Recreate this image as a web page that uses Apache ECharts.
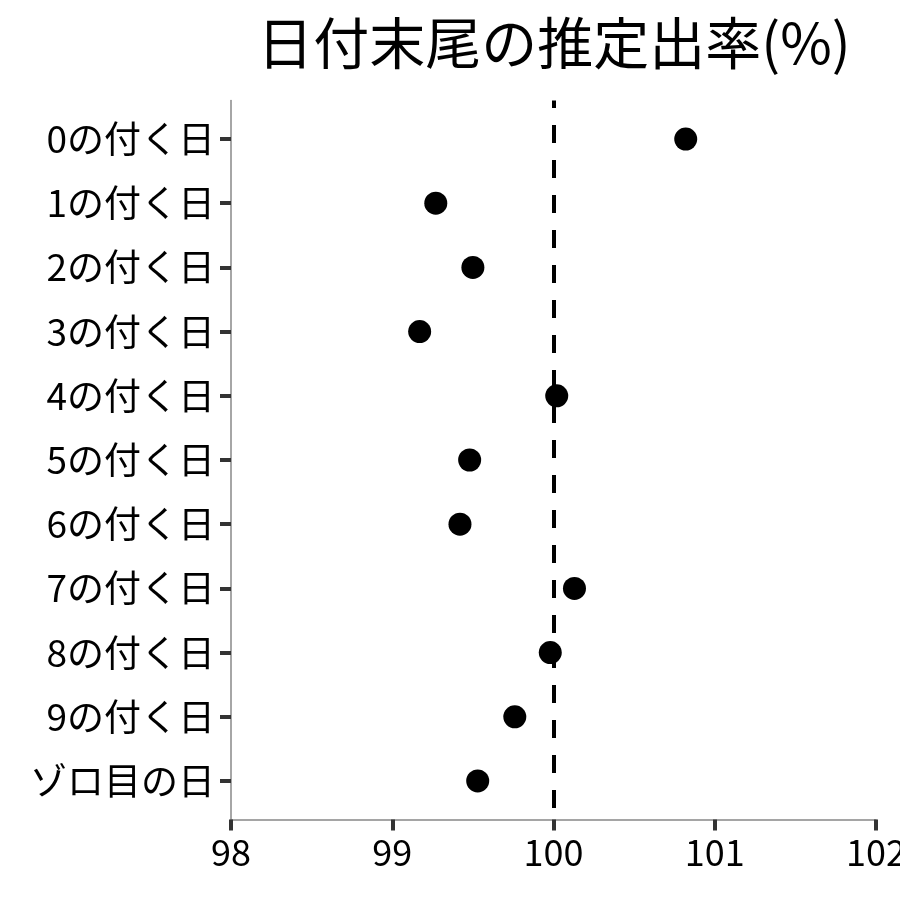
<!DOCTYPE html>
<html>
<head>
<meta charset="utf-8">
<script src="https://cdn.jsdelivr.net/npm/echarts@6/dist/echarts.min.js"></script>
<style>
  html, body { margin: 0; padding: 0; background: #fff; }
  #chart { width: 900px; height: 900px; }
</style>
</head>
<body>
<div id="chart"></div>
<script>
// data
const categories = ["0の付く日", "1の付く日", "2の付く日", "3の付く日", "4の付く日",
  "5の付く日", "6の付く日", "7の付く日", "8の付く日", "9の付く日", "ゾロ目の日"];
const rates = [100.82, 99.27, 99.5, 99.17, 100.02, 99.48, 99.42, 100.13, 99.98, 99.76, 99.53];
const xTicks = [98, 99, 100, 101, 102];
const refLine = [100];

const catIndex = categories.map((c, i) => i);
const points = rates.map((v, i) => [v, i]);
const font = "'Noto Sans CJK JP', 'Noto Sans', sans-serif";

const chart = echarts.init(document.getElementById("chart"));

const option = {
  animation: false,
  textStyle: { fontFamily: font },
  title: {
    text: "日付末尾の推定出率(%)",
    left: 549,
    textAlign: "center",
    top: 10,
    textStyle: { fontFamily: font, fontSize: 56, fontWeight: "normal", color: "#000" },
  },
  grid: { left: 231, right: 24, top: 100.5, bottom: 80.5, outerBoundsMode: "none" },
  xAxis: {
    type: "value",
    min: xTicks[0],
    max: xTicks[xTicks.length - 1],
    interval: 1,
    axisLine: { show: true, onZero: false, lineStyle: { color: "#888", width: 1.5 } },
    axisTick: { show: true, length: 11, lineStyle: { color: "#333", width: 4 } },
    axisLabel: { fontSize: 36, color: "#000", margin: 15, fontFamily: font },
    splitLine: { show: false },
  },
  yAxis: {
    type: "value",
    min: -0.6,
    max: categories.length - 0.4,
    inverse: true,
    axisLine: { show: true, onZero: false, lineStyle: { color: "#888", width: 1.5 } },
    axisTick: {
      show: true,
      customValues: catIndex,
      length: 11,
      lineStyle: { color: "#333", width: 4 },
    },
    axisLabel: {
      customValues: catIndex,
      formatter: (v) => categories[v],
      fontSize: 37,
      color: "#000",
      margin: 16,
      fontFamily: font,
    },
    splitLine: { show: false },
  },
  series: [
    {
      type: "scatter",
      data: points,
      symbol: "circle",
      symbolSize: 23,
      itemStyle: { color: "#000", opacity: 1 },
      z: 3,
      markLine: {
        silent: true,
        symbol: "none",
        label: { show: false },
        lineStyle: { color: "#000", width: 4, type: [18, 17], dashOffset: 10.5 },
        data: refLine.map((x) => ({ xAxis: x })),
        z: 2,
      },
    },
  ],
};

chart.setOption(option);
</script>
</body>
</html>
